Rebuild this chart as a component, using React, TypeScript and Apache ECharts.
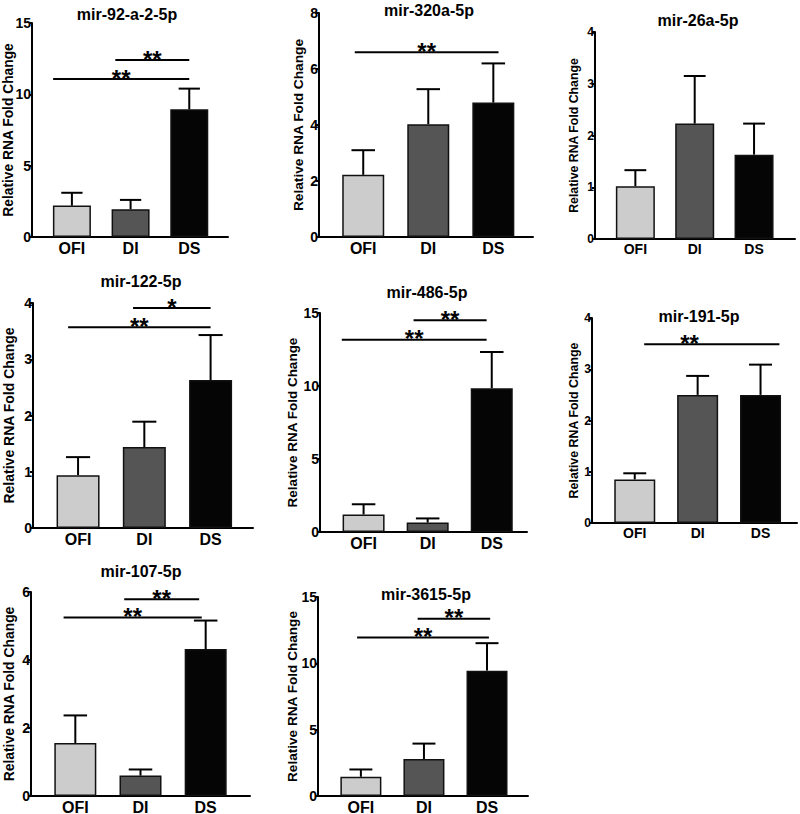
import React, { useEffect, useRef } from "react";
import * as echarts from "echarts";

// ---------- data ----------
const categories = ["OFI", "DI", "DS"];
const panelTitles = [
  "mir-92-a-2-5p",
  "mir-320a-5p",
  "mir-26a-5p",
  "mir-122-5p",
  "mir-486-5p",
  "mir-191-5p",
  "mir-107-5p",
  "mir-3615-5p",
];
const yAxisName = "Relative RNA Fold Change";
const yMaxValues = [15, 8, 4, 4, 15, 4, 6, 15];
const yTickSteps = [5, 2, 1, 1, 5, 1, 2, 5];
const meanValues = [
  [2.2, 1.95, 8.95],
  [2.22, 4.03, 4.8],
  [1.02, 2.23, 1.63],
  [0.94, 1.44, 2.63],
  [1.2, 0.65, 9.85],
  [0.85, 2.5, 2.5],
  [1.56, 0.6, 4.32],
  [1.45, 2.79, 9.45],
];
const upperErrorValues = [
  [3.1, 2.6, 10.4],
  [3.1, 5.28, 6.2],
  [1.33, 3.15, 2.23],
  [1.26, 1.89, 3.43],
  [1.9, 0.93, 12.33],
  [0.97, 2.87, 3.09],
  [2.37, 0.78, 5.16],
  [2.0, 3.95, 11.52],
];
// [fromGroup, toGroup, yValue, label]
const significance: [number, number, number, string][][] = [
  [[0, 2, 11.07, "**"], [1, 2, 12.4, "**"]],
  [[0, 2, 6.6, "**"]],
  [],
  [[0, 2, 3.57, "**"], [1, 2, 3.91, "*"]],
  [[0, 2, 13.17, "**"], [1, 2, 14.5, "**"]],
  [[0, 2, 3.49, "**"]],
  [[0, 2, 5.25, "**"], [1, 2, 5.79, "**"]],
  [[0, 2, 11.95, "**"], [1, 2, 13.36, "**"]],
];

// ---------- layout / style ----------
const barColors = ["#cccccc", "#555555", "#050505"];
const FONT = '"Liberation Sans", Arial, Helvetica, sans-serif';
// left, top, width, height of each plot area
const gridBoxes = [
  [32, 23, 196, 214],
  [319, 13, 214, 224],
  [595, 32, 200, 207],
  [33, 303, 220, 225],
  [320, 313, 207, 219],
  [592, 318, 205, 205],
  [31, 592, 219, 204],
  [318, 597, 210, 199],
];
const xMin = -0.68;
const xMaxes = [2.66, 2.61, 2.69, 2.64, 2.55, 2.58, 2.68, 2.65];
const titleCenters = [
  [127, 14],
  [429, 10],
  [698, 20],
  [141, 281],
  [427, 292],
  [699, 316],
  [141, 571],
  [426, 594],
];
const labelSizes = [16, 16, 14, 16, 16, 14, 16, 16];
const tickSizes = [14, 14, 12, 14, 14, 12, 14, 14];
const nameSizes = [13.8, 13.7, 12.3, 14, 13.5, 12.4, 13.9, 13.6];
const nameGaps = [17, 14, 15, 17, 21, 12, 15, 19];
// bracket start/end shifts (category units) and optional star position
const bracketShapes: [number, number, number?][][] = [
  [[-0.32, 0], [-0.26, 0]],
  [[-0.13, 0.08]],
  [],
  [[-0.15, 0], [-0.17, 0]],
  [[-0.34, -0.08], [-0.22, -0.08]],
  [[0.15, 0.3, 0.87]],
  [[-0.18, -0.06], [-0.25, -0.1]],
  [[-0.06, 0.03], [-0.1, 0.05]],
];

function buildOption() {
  const grid: any[] = [];
  const xAxis: any[] = [];
  const yAxis: any[] = [];
  const series: any[] = [];
  const graphic: any[] = [];

  panelTitles.forEach((title, p) => {
    const [l, t, w, h] = gridBoxes[p];
    const xMax = xMaxes[p];
    const spacing = w / (xMax - xMin);
    const barWidth = Math.round(spacing * 0.65);
    const capW = barWidth * 0.56;

    grid.push({ left: l, top: t, width: w, height: h, outerBoundsMode: "none", containLabel: false });
    xAxis.push({
      type: "value",
      gridIndex: p,
      min: xMin,
      max: xMax,
      axisLine: { show: true, onZero: false, lineStyle: { color: "#000", width: 2 } },
      axisTick: { show: false },
      splitLine: { show: false },
      axisLabel: {
        customValues: [0, 1, 2],
        formatter: (v: number) => categories[Math.round(v)] ?? "",
        color: "#000",
        fontWeight: "bold",
        fontFamily: FONT,
        fontSize: labelSizes[p],
        margin: 3,
      },
    });
    yAxis.push({
      type: "value",
      gridIndex: p,
      min: 0,
      max: yMaxValues[p],
      interval: yTickSteps[p],
      name: yAxisName,
      nameLocation: "middle",
      nameGap: nameGaps[p],
      nameMoveOverlap: false,
      nameTextStyle: { color: "#000", fontWeight: "bold", fontFamily: FONT, fontSize: nameSizes[p] },
      axisLine: { show: true, onZero: false, lineStyle: { color: "#000", width: 2 } },
      axisTick: { show: true, length: 3, lineStyle: { color: "#000", width: 2 } },
      splitLine: { show: false },
      axisLabel: {
        color: "#000",
        fontWeight: "bold",
        fontFamily: FONT,
        fontSize: tickSizes[p],
        margin: 1,
      },
    });

    series.push({
      type: "bar",
      xAxisIndex: p,
      yAxisIndex: p,
      barWidth,
      data: meanValues[p].map((v, i) => ({
        value: [i, v],
        itemStyle: { color: barColors[i], borderColor: "#111", borderWidth: 1.5 },
      })),
      z: 2,
    });

    series.push({
      type: "custom",
      xAxisIndex: p,
      yAxisIndex: p,
      z: 3,
      data: meanValues[p].map((v, i) => [i, v, upperErrorValues[p][i]]),
      renderItem: (params: any, api: any) => {
        const x = api.value(0);
        const p0 = api.coord([x, api.value(1)]);
        const p1 = api.coord([x, api.value(2)]);
        const style = { stroke: "#000", lineWidth: 2 };
        return {
          type: "group",
          children: [
            { type: "line", shape: { x1: p0[0], y1: p0[1], x2: p1[0], y2: p1[1] }, style },
            { type: "line", shape: { x1: p1[0] - capW / 2, y1: p1[1], x2: p1[0] + capW / 2, y2: p1[1] }, style },
          ],
        };
      },
    });

    if (significance[p].length) {
      series.push({
        type: "custom",
        xAxisIndex: p,
        yAxisIndex: p,
        z: 4,
        data: significance[p].map(([a, b, y, label], k) => {
          const shp = bracketShapes[p][k];
          const x1 = a + shp[0];
          const x2 = b + shp[1];
          const sx = shp[2] !== undefined ? shp[2] : (x1 + x2) / 2;
          return [x1, x2, y, sx, label];
        }),
        renderItem: (params: any, api: any) => {
          const y = api.value(2);
          const a = api.coord([api.value(0), y]);
          const b = api.coord([api.value(1), y]);
          const s = api.coord([api.value(3), y]);
          const label = significance[p][params.dataIndex][3];
          return {
            type: "group",
            children: [
              { type: "line", shape: { x1: a[0], y1: a[1], x2: b[0], y2: b[1] }, style: { stroke: "#000", lineWidth: 2 } },
              {
                type: "text",
                x: s[0],
                y: a[1] - 1,
                style: {
                  text: label,
                  fill: "#000",
                  font: `bold 24px ${FONT}`,
                  align: "center",
                  verticalAlign: "middle",
                  textAlign: "center",
                  textVerticalAlign: "middle",
                },
              },
            ],
          };
        },
      });
    }

    graphic.push({
      type: "text",
      x: titleCenters[p][0],
      y: titleCenters[p][1],
      style: {
        text: title,
        fill: "#000",
        font: `bold 16px ${FONT}`,
        textAlign: "center",
        textVerticalAlign: "middle",
        align: "center",
        verticalAlign: "middle",
      },
    });
  });

  return {
    animation: false,
    backgroundColor: "#ffffff",
    grid,
    xAxis,
    yAxis,
    series,
    graphic,
  };
}

export default function App() {
  const ref = useRef<HTMLDivElement>(null);
  useEffect(() => {
    if (!ref.current) return;
    const chart = echarts.init(ref.current, null, { renderer: "svg" });
    chart.setOption(buildOption() as any);
    return () => chart.dispose();
  }, []);
  return (
    <div
      ref={ref}
      style={{ position: "absolute", left: 0, top: 0, width: 800, height: 814, background: "#fff" }}
    />
  );
}
